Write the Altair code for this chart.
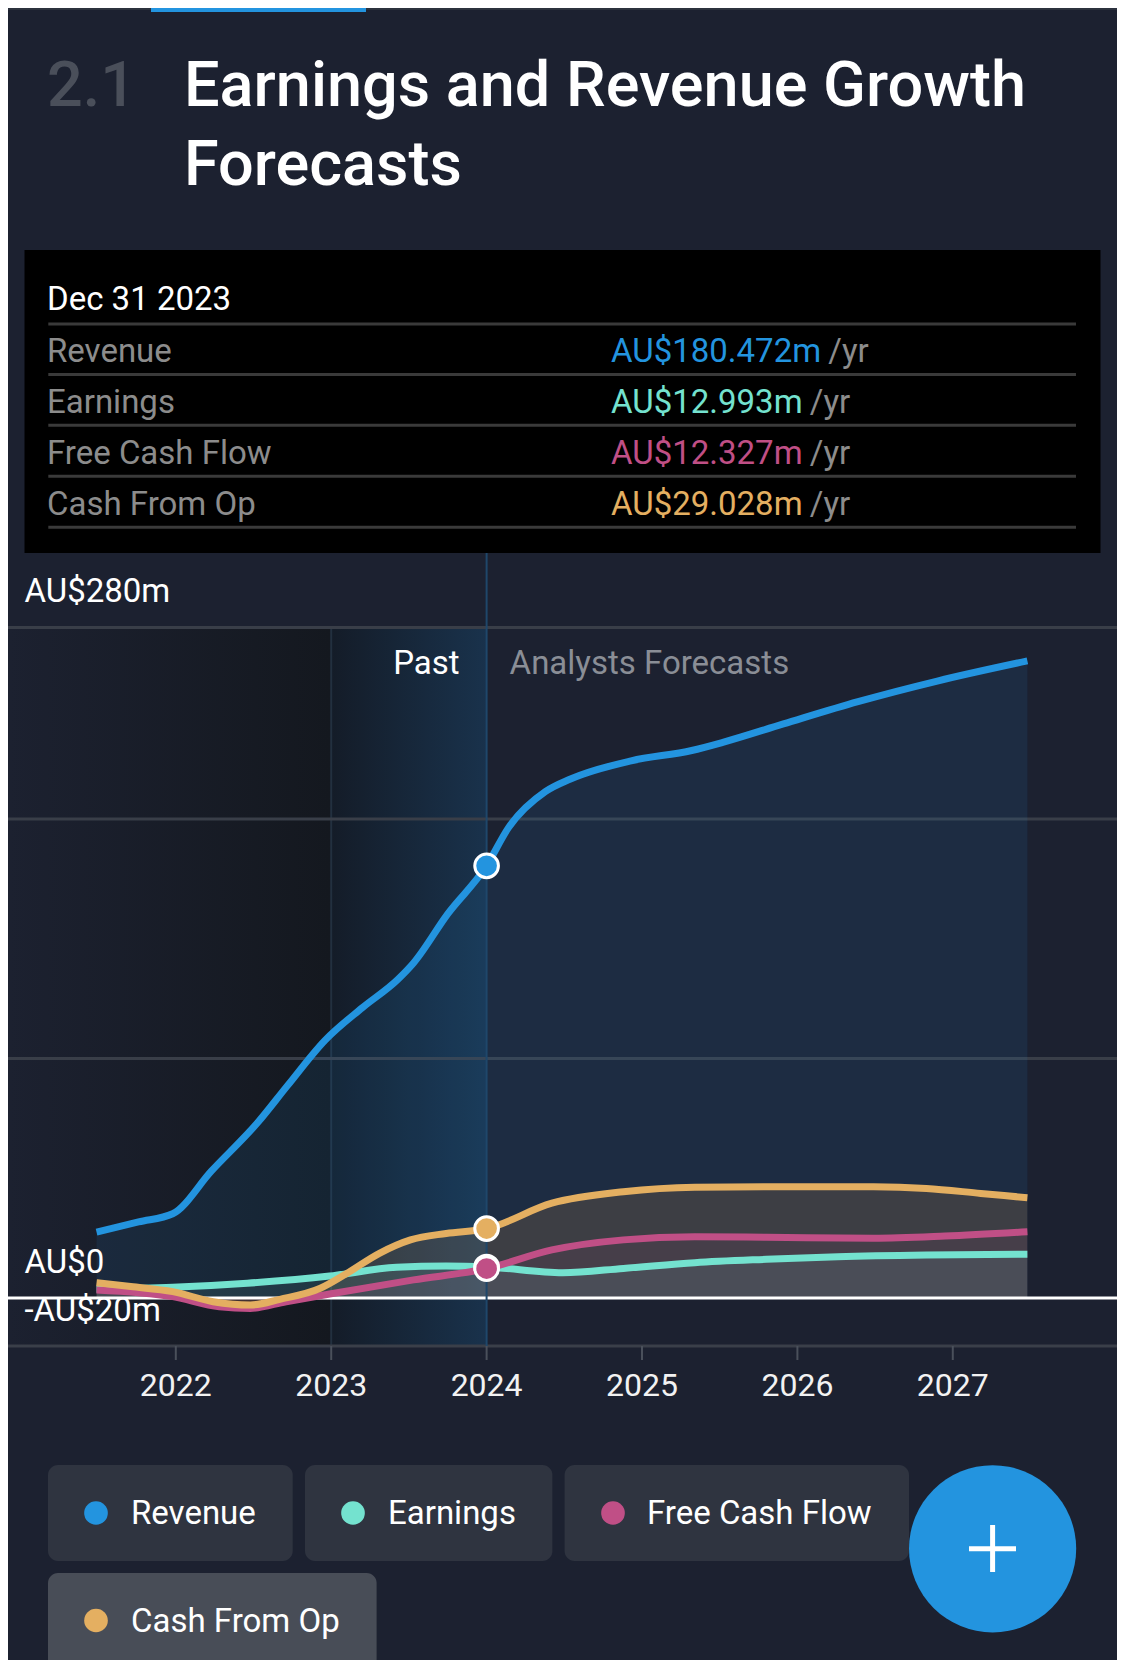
import altair as alt
import pandas as pd

# ---------------- data ----------------
SERIES = ["Revenue", "Earnings", "Free Cash Flow", "Cash From Op"]
COLORS = ["#2394df", "#74e2cf", "#c04f86", "#e4af61"]

REV_YEARS = [2021.49, 2021.76, 2021.98, 2022.23, 2022.53, 2022.72, 2022.96, 2023.20, 2023.43,
             2023.53, 2023.75, 2024.0, 2024.14, 2024.38, 2024.54, 2024.93, 2025.32, 2025.52,
             2025.91, 2026.39, 2026.90, 2027.48]
REV_VALUES = [27.5, 31.8, 35.2, 53.1, 73.5, 88.8, 107.6, 121.2, 133.1,
              139.9, 160.4, 180.5, 196.3, 211.5, 216.7, 224.3, 228.6, 232.0,
              239.7, 249.0, 257.6, 266.0]

CFO_YEARS = [2021.49, 2021.71, 2021.98, 2022.24, 2022.48, 2022.67, 2022.93, 2023.10, 2023.31,
             2023.51, 2023.74, 2024.0, 2024.42, 2024.88, 2025.34, 2025.80, 2026.49, 2026.83,
             2027.18, 2027.48]
CFO_VALUES = [6.4, 4.8, 2.7, -1.5, -2.9, -0.5, 4.1, 10.3, 18.7,
              24.3, 27.0, 29.0, 39.6, 44.4, 46.3, 46.5, 46.5, 45.8,
              43.7, 41.9]

EARN_YEARS = [2021.49, 2021.98, 2022.46, 2022.99, 2023.42, 2023.74, 2024.0, 2024.49, 2024.88,
              2025.34, 2025.80, 2026.26, 2026.83, 2027.48]
EARN_VALUES = [3.7, 4.5, 6.2, 9.2, 12.9, 13.4, 13.0, 10.6, 12.4,
               14.8, 16.2, 17.3, 18.0, 18.3]

FCF_YEARS = [2021.49, 2021.98, 2022.28, 2022.48, 2022.71, 2022.99, 2023.53, 2024.0, 2024.42,
             2024.88, 2025.34, 2025.80, 2026.49, 2026.95, 2027.48]
FCF_VALUES = [3.4, 0.6, -3.6, -4.3, -1.5, 1.7, 7.6, 12.3, 20.1,
              24.3, 25.6, 25.4, 25.0, 25.9, 27.7]

YEAR_TICKS = [2022, 2023, 2024, 2025, 2026, 2027]
GRID_VALUES = [280, 200, 100]
Y_LABEL_VALUES = [280, 0, -20]
Y_LABEL_TEXT = ["AU$280m", "AU$0", "-AU$20m"]
PAST_RANGE = [2023, 2024]
MARKER_YEAR = [2024.0]
MARKER_VALUES = [180.472, 12.993, 12.327, 29.028]
TOOLTIP_DATE = "Dec 31 2023"
TOOLTIP_VALUES = ["AU$180.472m", "AU$12.993m", "AU$12.327m", "AU$29.028m"]
TOOLTIP_UNIT = "/yr"
TITLE_NUM = "2.1"
TITLE_LINES = ["Earnings and Revenue Growth", "Forecasts"]

# ---------------- layout ----------------
FONT = "Roboto"
FS = 33
BG = "#1c2130"
W, H = 1109, 1652
PLOT_TOP, PLOT_BOTTOM = 619.4, 1338.0
V_TOP, V_BOTTOM = 280.0, -20.0
PPM = (PLOT_BOTTOM - PLOT_TOP) / (V_TOP - V_BOTTOM)
Y_DOMAIN = [V_BOTTOM - (H - PLOT_BOTTOM) / PPM, V_TOP + PLOT_TOP / PPM]
X_2022_PX, PX_PER_YEAR = 167.8, 155.4
X_DOMAIN = [2022 - X_2022_PX / PX_PER_YEAR, 2022 + (W - X_2022_PX) / PX_PER_YEAR]

XS = alt.Scale(domain=X_DOMAIN, nice=False, zero=False)
YS = alt.Scale(domain=Y_DOMAIN, nice=False, zero=False)

ONE = pd.DataFrame({"k": [0]})

# approximate Roboto advance widths (units per 2048 em) for placing "/yr"
ADV = {"A": 1336, "U": 1301, "$": 1124, ".": 527, "m": 1791, " ": 507}


def text_width(s, size):
    return sum(ADV.get(c, 1150) for c in s) / 2048.0 * size


def txt(s, x, y, size=FS, color="#ffffff", align="left", weight="normal", baseline="alphabetic"):
    return alt.Chart(ONE).mark_text(
        text=s, align=align, baseline=baseline, font=FONT, fontSize=size,
        color=color, fontWeight=weight
    ).encode(x=alt.value(x), y=alt.value(y))


def box(x, x2, y, y2, fill, radius=0):
    return alt.Chart(ONE).mark_rect(fill=fill, cornerRadius=radius).encode(
        x=alt.value(x), x2=alt.value(x2), y=alt.value(y), y2=alt.value(y2))


def hline(x, x2, y, color, width):
    return alt.Chart(ONE).mark_rule(color=color, strokeWidth=width).encode(
        x=alt.value(x), x2=alt.value(x2), y=alt.value(y))


def vline(x, y, y2, color, width):
    return alt.Chart(ONE).mark_rule(color=color, strokeWidth=width).encode(
        x=alt.value(x), y=alt.value(y), y2=alt.value(y2))


def sdf(years, values):
    return pd.DataFrame({"year": years, "value": values})


layers = []

# top bar
layers.append(hline(0, W, 1, "#2c323e", 2))
layers.append(box(143, 358, 0, 4, "#2394df"))

# title
layers.append(txt(TITLE_NUM, 39, 97.7, size=63, color="#4a4f5a", weight=500))
layers.append(txt(TITLE_LINES[0], 176, 97.7, size=63, color="#ffffff", weight=500))
layers.append(txt(TITLE_LINES[1], 176, 177, size=63, color="#ffffff", weight=500))

# tooltip box
layers.append(box(16.5, 1092.5, 242, 545, "#000000"))
layers.append(txt(TOOLTIP_DATE, 39, 302, color="#ffffff"))
SEP_Y = [316, 366.5, 417.3, 468.2, 519.2]
for sy in SEP_Y:
    layers.append(hline(40.3, 1068, sy, "#3a3a3a", 3))
VAL_X = 603
for i, (lab, val, col) in enumerate(zip(SERIES, TOOLTIP_VALUES, COLORS)):
    by = 353.6 + 51.0 * i
    layers.append(txt(lab, 39, by, color="#8c8c8c"))
    layers.append(txt(val, VAL_X, by, color=col))
    layers.append(txt(TOOLTIP_UNIT, VAL_X + text_width(val + " ", FS), by, color="#8c8c8c"))

# background regions of the plot
LEFT_GRAD = {"gradient": "linear", "x1": 0, "x2": 1, "y1": 0, "y2": 0,
             "stops": [{"offset": 0, "color": BG}, {"offset": 1, "color": "#14181f"}]}
PAST_GRAD = {"gradient": "linear", "x1": 0, "x2": 1, "y1": 0, "y2": 0,
             "stops": [{"offset": 0, "color": "#141c28"}, {"offset": 1, "color": "#19324c"}]}
reg = pd.DataFrame({"x0": [X_DOMAIN[0], PAST_RANGE[0]], "x1": [PAST_RANGE[0], PAST_RANGE[1]],
                    "top": [V_TOP, V_TOP], "bot": [V_BOTTOM, V_BOTTOM]})
layers.append(alt.Chart(reg.iloc[[0]]).mark_rect(fill=LEFT_GRAD).encode(
    x=alt.X("x0:Q", scale=XS, axis=None), x2="x1",
    y=alt.Y("top:Q", scale=YS, axis=None), y2="bot"))
layers.append(alt.Chart(reg.iloc[[1]]).mark_rect(fill=PAST_GRAD).encode(
    x=alt.X("x0:Q", scale=XS, axis=None), x2="x1",
    y=alt.Y("top:Q", scale=YS, axis=None), y2="bot"))

# faint line at start of past window
layers.append(alt.Chart(pd.DataFrame({"year": [PAST_RANGE[0]]})).mark_rule(
    color="#22303f", strokeWidth=2).encode(
    x=alt.X("year:Q", scale=XS, axis=None), y=alt.value(PLOT_TOP), y2=alt.value(PLOT_BOTTOM)))

# gridlines
layers.append(alt.Chart(pd.DataFrame({"value": GRID_VALUES})).mark_rule(
    color="#393e48", strokeWidth=3).encode(
    y=alt.Y("value:Q", scale=YS, axis=None), x=alt.value(0), x2=alt.value(W)))

# x axis (drawn by hand so it can sit inside the canvas)
layers.append(alt.Chart(pd.DataFrame({"value": [V_BOTTOM]})).mark_rule(
    color="#3a3f49", strokeWidth=3).encode(
    y=alt.Y("value:Q", scale=YS, axis=None), x=alt.value(0), x2=alt.value(W)))
ticks_df = pd.DataFrame({"year": YEAR_TICKS})
layers.append(alt.Chart(ticks_df).mark_rule(color="#4a505b", strokeWidth=2).encode(
    x=alt.X("year:Q", scale=XS, axis=None), y=alt.value(PLOT_BOTTOM), y2=alt.value(PLOT_BOTTOM + 14)))
layers.append(alt.Chart(ticks_df).mark_text(align="center", baseline="alphabetic", font=FONT,
                                            fontSize=32, color="#f2f2f2").encode(
    x=alt.X("year:Q", scale=XS, axis=None), y=alt.value(1388),
    text=alt.Text("year:Q", format="d")))

# areas
AREA_STYLE = [
    (sdf(REV_YEARS, REV_VALUES), "#2394df", 0.10),
    (sdf(CFO_YEARS, CFO_VALUES), "#c08850", 0.20),
    (sdf(FCF_YEARS, FCF_VALUES), "#b43c8c", 0.08),
    (sdf(EARN_YEARS, EARN_VALUES), "#64aaaa", 0.15),
]
for df, fill, op in AREA_STYLE:
    layers.append(alt.Chart(df).mark_area(interpolate="monotone", fill=fill, fillOpacity=op).encode(
        x=alt.X("year:Q", scale=XS, axis=None),
        y=alt.Y("value:Q", scale=YS, axis=None),
        y2=alt.Y2Datum(datum=0)))

# zero line
layers.append(alt.Chart(pd.DataFrame({"value": [0]})).mark_rule(
    color="#ffffff", strokeWidth=3).encode(
    y=alt.Y("value:Q", scale=YS, axis=None), x=alt.value(0), x2=alt.value(W)))

# "now" line
layers.append(alt.Chart(pd.DataFrame({"year": [PAST_RANGE[1]]})).mark_rule(
    color="#1f476a", strokeWidth=2).encode(
    x=alt.X("year:Q", scale=XS, axis=None), y=alt.value(545), y2=alt.value(PLOT_BOTTOM)))

# lines
LINE_ORDER = [
    (sdf(EARN_YEARS, EARN_VALUES), COLORS[1]),
    (sdf(FCF_YEARS, FCF_VALUES), COLORS[2]),
    (sdf(CFO_YEARS, CFO_VALUES), COLORS[3]),
    (sdf(REV_YEARS, REV_VALUES), COLORS[0]),
]
for df, col in LINE_ORDER:
    layers.append(alt.Chart(df).mark_line(interpolate="monotone", color=col, strokeWidth=7).encode(
        x=alt.X("year:Q", scale=XS, axis=None),
        y=alt.Y("value:Q", scale=YS, axis=None)))

# markers at the latest reported date
mk = pd.DataFrame({"series": SERIES, "value": MARKER_VALUES, "year": MARKER_YEAR * len(SERIES)})
layers.append(alt.Chart(mk).mark_circle(size=560, opacity=1, stroke="#ffffff", strokeWidth=3).encode(
    x=alt.X("year:Q", scale=XS, axis=None),
    y=alt.Y("value:Q", scale=YS, axis=None),
    color=alt.Color("series:N", scale=alt.Scale(domain=SERIES, range=COLORS), legend=None)))

# Past / Analysts Forecasts
now_df = pd.DataFrame({"year": [PAST_RANGE[1]]})
layers.append(alt.Chart(now_df).mark_text(text="Past", align="right", dx=-27, baseline="alphabetic",
                                          font=FONT, fontSize=FS, color="#ffffff").encode(
    x=alt.X("year:Q", scale=XS, axis=None), y=alt.value(666)))
layers.append(alt.Chart(now_df).mark_text(text="Analysts Forecasts", align="left", dx=23,
                                          baseline="alphabetic", font=FONT, fontSize=FS,
                                          color="#8a8e96").encode(
    x=alt.X("year:Q", scale=XS, axis=None), y=alt.value(666)))

# y labels
layers.append(alt.Chart(pd.DataFrame({"value": Y_LABEL_VALUES, "label": Y_LABEL_TEXT})).mark_text(
    align="left", baseline="alphabetic", dy=-25, font=FONT, fontSize=FS, color="#ffffff").encode(
    x=alt.value(16.5), y=alt.Y("value:Q", scale=YS, axis=None), text="label:N"))

# legend chips
CHIPS = [  # x0, x1, y0, y1, dot x, dot y, text x, text baseline, fill
    (40, 284.7, 1457, 1553, 88, 1505, 123, 1516.3, "#2f3440"),
    (297, 544.4, 1457, 1553, 345, 1505, 380, 1516.3, "#2f3440"),
    (556.6, 901, 1457, 1553, 605, 1505, 639, 1516.3, "#2f3440"),
    (40, 368.6, 1565, 1675, 88, 1612.5, 123, 1623.7, "#484d57"),
]
for (x0, x1, y0, y1, dx_, dy_, tx, ty, fill), name, col in zip(CHIPS, SERIES, COLORS):
    layers.append(box(x0, x1, y0, y1, fill, radius=10))
    layers.append(alt.Chart(ONE).mark_circle(size=560, opacity=1, color=col).encode(
        x=alt.value(dx_), y=alt.value(dy_)))
    layers.append(txt(name, tx, ty, color="#ffffff"))

# plus button
layers.append(alt.Chart(ONE).mark_circle(size=167.2 ** 2, opacity=1, color="#2394df").encode(
    x=alt.value(984.6), y=alt.value(1540.8)))
layers.append(hline(961, 1008, 1540.8, "#ffffff", 5))
layers.append(vline(984.6, 1517, 1564, "#ffffff", 5))

chart = alt.layer(*layers).properties(
    width=W, height=H, autosize=alt.AutoSizeParams(type="none"), padding=0
).configure(background=BG, font=FONT).configure_view(stroke=None)

chart.save("out.html", embed_options={"renderer": "svg", "actions": False})
